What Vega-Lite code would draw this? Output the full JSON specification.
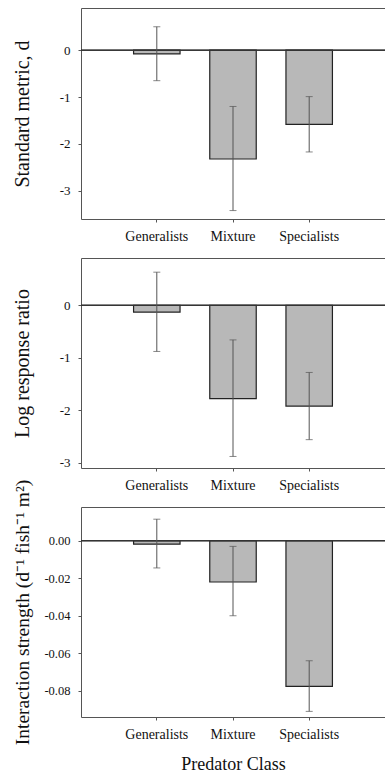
{
  "$schema": "https://vega.github.io/schema/vega-lite/v6.json",
  "padding": {"left": 11, "top": 8, "right": 0, "bottom": 0},
  "background": "white",
  "bounds": "flush",
  "spacing": 39,
  "config": {
    "font": "Liberation Serif",
    "view": {"stroke": null},
    "locale": {"number": {"decimal": ".", "thousands": ",", "grouping": [3], "currency": ["$", ""], "minus": "-"}},
    "axis": {"grid": false, "domainColor": "#555", "tickColor": "#555", "labelColor": "#111", "titleColor": "#111", "labelFont": "Liberation Serif", "titleFont": "Liberation Serif", "titleFontWeight": "normal"}
  },
  "vconcat": [
    {
      "width": 304, "height": 211,
      "data": {"values": [
        {"cls": "Generalists", "v": -0.08, "lo": -0.65, "hi": 0.5},
        {"cls": "Mixture", "v": -2.32, "lo": -3.42, "hi": -1.2},
        {"cls": "Specialists", "v": -1.58, "lo": -2.17, "hi": -0.99}
      ]},
      "resolve": {"axis": {"x": "independent"}},
      "layer": [
        {"mark": {"type": "bar", "fill": "#b8b8b8", "stroke": "#222", "strokeWidth": 1.2},
         "encoding": {
           "x": {"field": "cls", "type": "nominal", "sort": null, "scale": {"paddingInner": 0.39, "paddingOuter": 0.69},
                 "axis": {"orient": "top", "labels": false, "ticks": false, "title": null}},
           "y": {"field": "v", "type": "quantitative", "scale": {"domain": [-3.6, 0.9], "nice": false, "zero": false},
                 "axis": {"values": [0, -1, -2, -3], "format": "d", "tickSize": 3, "labelPadding": 8, "labelFontSize": 13,
                          "title": "Standard metric, d", "titleFontSize": 20, "titleX": -59, "titleBaseline": "middle"}},
           "y2": {"datum": 0}
         }},
        {"mark": {"type": "rule", "color": "#333", "strokeWidth": 1}, "encoding": {"y": {"datum": 0}}},
        {"mark": {"type": "rule", "color": "#555", "strokeWidth": 1},
         "encoding": {
           "x": {"field": "cls", "type": "nominal", "sort": null,
                 "axis": {"orient": "bottom", "tickSize": 3, "labelPadding": 7, "labelFontSize": 14, "labelAngle": 0, "title": null}},
           "y": {"field": "lo", "type": "quantitative"},
           "y2": {"field": "hi"}
         }},
        {"mark": {"type": "tick", "color": "#555", "size": 7, "thickness": 1},
         "encoding": {"x": {"field": "cls", "type": "nominal", "sort": null, "axis": null}, "y": {"field": "lo", "type": "quantitative"}}},
        {"mark": {"type": "tick", "color": "#555", "size": 7, "thickness": 1},
         "encoding": {"x": {"field": "cls", "type": "nominal", "sort": null, "axis": null}, "y": {"field": "hi", "type": "quantitative"}}}
      ]
    },
    {
      "width": 304, "height": 210,
      "data": {"values": [
        {"cls": "Generalists", "v": -0.13, "lo": -0.88, "hi": 0.63},
        {"cls": "Mixture", "v": -1.78, "lo": -2.88, "hi": -0.66},
        {"cls": "Specialists", "v": -1.92, "lo": -2.56, "hi": -1.28}
      ]},
      "resolve": {"axis": {"x": "independent"}},
      "layer": [
        {"mark": {"type": "bar", "fill": "#b8b8b8", "stroke": "#222", "strokeWidth": 1.2},
         "encoding": {
           "x": {"field": "cls", "type": "nominal", "sort": null, "scale": {"paddingInner": 0.39, "paddingOuter": 0.69},
                 "axis": {"orient": "top", "labels": false, "ticks": false, "title": null}},
           "y": {"field": "v", "type": "quantitative", "scale": {"domain": [-3.1, 0.9], "nice": false, "zero": false},
                 "axis": {"values": [0, -1, -2, -3], "format": "d", "tickSize": 3, "labelPadding": 8, "labelFontSize": 13,
                          "title": "Log response ratio", "titleFontSize": 20, "titleX": -59, "titleBaseline": "middle"}},
           "y2": {"datum": 0}
         }},
        {"mark": {"type": "rule", "color": "#333", "strokeWidth": 1}, "encoding": {"y": {"datum": 0}}},
        {"mark": {"type": "rule", "color": "#555", "strokeWidth": 1},
         "encoding": {
           "x": {"field": "cls", "type": "nominal", "sort": null,
                 "axis": {"orient": "bottom", "tickSize": 3, "labelPadding": 7, "labelFontSize": 14, "labelAngle": 0, "title": null}},
           "y": {"field": "lo", "type": "quantitative"},
           "y2": {"field": "hi"}
         }},
        {"mark": {"type": "tick", "color": "#555", "size": 7, "thickness": 1},
         "encoding": {"x": {"field": "cls", "type": "nominal", "sort": null, "axis": null}, "y": {"field": "lo", "type": "quantitative"}}},
        {"mark": {"type": "tick", "color": "#555", "size": 7, "thickness": 1},
         "encoding": {"x": {"field": "cls", "type": "nominal", "sort": null, "axis": null}, "y": {"field": "hi", "type": "quantitative"}}}
      ]
    },
    {
      "width": 304, "height": 210,
      "data": {"values": [
        {"cls": "Generalists", "v": -0.0018, "lo": -0.0145, "hi": 0.0115},
        {"cls": "Mixture", "v": -0.022, "lo": -0.040, "hi": -0.003},
        {"cls": "Specialists", "v": -0.0777, "lo": -0.091, "hi": -0.064}
      ]},
      "resolve": {"axis": {"x": "independent"}},
      "layer": [
        {"mark": {"type": "bar", "fill": "#b8b8b8", "stroke": "#222", "strokeWidth": 1.2},
         "encoding": {
           "x": {"field": "cls", "type": "nominal", "sort": null, "scale": {"paddingInner": 0.39, "paddingOuter": 0.69},
                 "axis": {"orient": "top", "labels": false, "ticks": false, "title": null}},
           "y": {"field": "v", "type": "quantitative", "scale": {"domain": [-0.094, 0.018], "nice": false, "zero": false},
                 "axis": {"values": [0, -0.02, -0.04, -0.06, -0.08], "format": ".2f", "tickSize": 3, "labelPadding": 8, "labelFontSize": 12.5,
                          "title": "Interaction strength (d⁻¹ fish⁻¹ m²)", "titleFontSize": 19.5, "titleX": -59, "titleBaseline": "middle"}},
           "y2": {"datum": 0}
         }},
        {"mark": {"type": "rule", "color": "#333", "strokeWidth": 1}, "encoding": {"y": {"datum": 0}}},
        {"mark": {"type": "rule", "color": "#555", "strokeWidth": 1},
         "encoding": {
           "x": {"field": "cls", "type": "nominal", "sort": null,
                 "axis": {"orient": "bottom", "tickSize": 3, "labelPadding": 7, "labelFontSize": 14, "labelAngle": 0,
                          "title": "Predator Class", "titleFontSize": 18, "titlePadding": 14}},
           "y": {"field": "lo", "type": "quantitative"},
           "y2": {"field": "hi"}
         }},
        {"mark": {"type": "tick", "color": "#555", "size": 7, "thickness": 1},
         "encoding": {"x": {"field": "cls", "type": "nominal", "sort": null, "axis": null}, "y": {"field": "lo", "type": "quantitative"}}},
        {"mark": {"type": "tick", "color": "#555", "size": 7, "thickness": 1},
         "encoding": {"x": {"field": "cls", "type": "nominal", "sort": null, "axis": null}, "y": {"field": "hi", "type": "quantitative"}}}
      ]
    }
  ]
}
